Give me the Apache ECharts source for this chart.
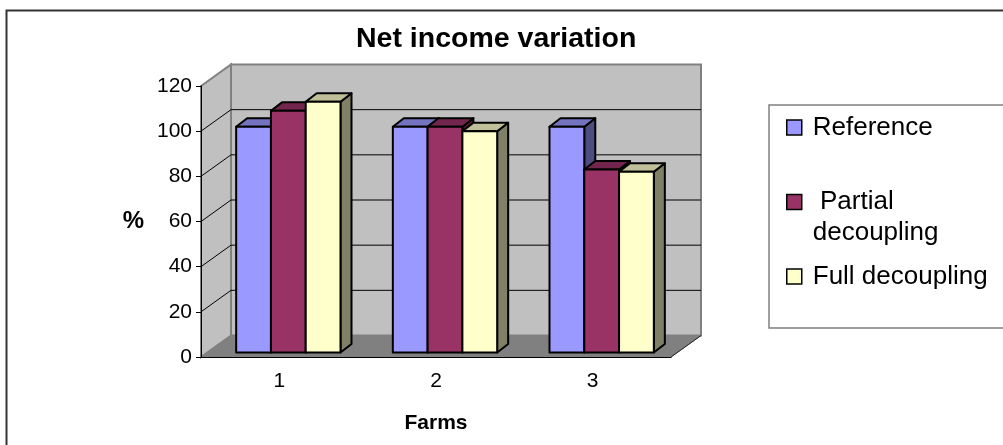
<!DOCTYPE html>
<html>
<head>
<meta charset="utf-8">
<script src="https://cdn.jsdelivr.net/npm/echarts@6/dist/echarts.min.js"></script>
<style>
  html, body { margin: 0; padding: 0; background: #fff; }
  #chart { width: 1003px; height: 445px; }
</style>
</head>
<body>
<div id="chart"></div>
<script>
// data
const categories = ['1', '2', '3'];
const seriesNames = ['Reference', 'Partial decoupling', 'Full decoupling'];
const referenceValues = [100, 100, 100];
const partialValues = [107, 100, 81];
const fullValues = [111, 98, 80];
const yTicks = [0, 20, 40, 60, 80, 100, 120];

// 3d look
const WALL_DX = 30, WALL_DY = -21.5;   // depth of the walls
const BAR_DX = 11, BAR_DY = -8.5;      // depth of one bar
const SHIFT_X = 9, SHIFT_Y = -4.5;     // bars sit a bit inside the floor
const BAR_RATIO = 0.222;
const FONT = 'Liberation Sans, Arial, sans-serif';

const barColors = [
  { front: '#9999FF', top: '#7373bf', side: '#4d4d80' },
  { front: '#993366', top: '#73264d', side: '#4d1a33' },
  { front: '#FFFFCC', top: '#bfbf99', side: '#808066' }
];

function toData(values) {
  return values.map(function (v, i) { return [i, v]; });
}

function barRenderer(index) {
  const c = barColors[index];
  return function (params, api) {
    const cat = api.value(0);
    const val = api.value(1);
    const band = api.size([1, 0])[0];
    const w = band * BAR_RATIO;
    const topPt = api.coord([cat, val]);
    const basePt = api.coord([cat, 0]);
    const x0 = topPt[0] - 1.5 * w + index * w + SHIFT_X;
    const x1 = x0 + w;
    const yT = topPt[1] + SHIFT_Y;
    const yB = basePt[1] + SHIFT_Y;
    const line = { stroke: '#000', lineWidth: 2, lineJoin: 'round' };
    return {
      type: 'group',
      children: [
        {
          type: 'polygon',
          shape: { points: [[x1, yT], [x1 + BAR_DX, yT + BAR_DY], [x1 + BAR_DX, yB + BAR_DY], [x1, yB]] },
          style: Object.assign({ fill: c.side }, line)
        },
        {
          type: 'polygon',
          shape: { points: [[x0, yT], [x0 + BAR_DX, yT + BAR_DY], [x1 + BAR_DX, yT + BAR_DY], [x1, yT]] },
          style: Object.assign({ fill: c.top }, line)
        },
        {
          type: 'rect',
          shape: { x: x0, y: yT, width: w, height: yB - yT },
          style: Object.assign({ fill: c.front }, line)
        }
      ]
    };
  };
}

// walls, floor and gridlines behind the bars
function frameRenderer(params, api) {
  const cs = params.coordSys;
  const xl = cs.x, xr = cs.x + cs.width;
  const yt = cs.y, yb = cs.y + cs.height;
  const children = [
    {
      type: 'polygon',
      shape: { points: [[xl, yt], [xl + WALL_DX, yt + WALL_DY], [xl + WALL_DX, yb + WALL_DY], [xl, yb]] },
      style: { fill: '#c0c0c0', stroke: '#808080', lineWidth: 2 }
    },
    {
      type: 'rect',
      shape: { x: xl + WALL_DX, y: yt + WALL_DY, width: cs.width, height: cs.height },
      style: { fill: '#c0c0c0', stroke: '#808080', lineWidth: 2 }
    },
    {
      type: 'polygon',
      shape: { points: [[xl, yb], [xl + WALL_DX, yb + WALL_DY], [xr + WALL_DX, yb + WALL_DY], [xr, yb]] },
      style: { fill: '#808080', stroke: '#808080', lineWidth: 1 }
    },
    {
      type: 'line',
      shape: { x1: xr, y1: yb, x2: xr + WALL_DX, y2: yb + WALL_DY },
      style: { stroke: '#222', lineWidth: 1 }
    }
  ];
  yTicks.forEach(function (t) {
    if (t === yTicks[0] || t === yTicks[yTicks.length - 1]) return;
    const y = api.coord([0, t])[1];
    children.push({
      type: 'line',
      shape: { x1: xl, y1: y, x2: xl + WALL_DX, y2: y + WALL_DY },
      style: { stroke: '#000', lineWidth: 1 }
    });
    children.push({
      type: 'line',
      shape: { x1: xl + WALL_DX, y1: y + WALL_DY, x2: xr + WALL_DX, y2: y + WALL_DY },
      style: { stroke: '#000', lineWidth: 1 }
    });
  });
  return { type: 'group', children: children };
}

const chart = echarts.init(document.getElementById('chart'));

const option = {
  backgroundColor: '#fff',
  animation: false,
  title: {
    text: 'Net income variation',
    left: 356,
    top: 25,
    padding: 0,
    textStyle: { fontFamily: FONT, fontSize: 28.5, fontWeight: 'bold', color: '#000' }
  },
  graphic: [
    {
      type: 'rect',
      z: -10,
      shape: { x: 6.5, y: 10.5, width: 1010, height: 460 },
      style: { fill: 'none', stroke: '#333', lineWidth: 2 }
    }
  ],
  legend: {
    orient: 'vertical',
    left: 769,
    top: 105,
    padding: [7, 40, 36, 17],
    itemGap: 12.5,
    itemWidth: 15,
    itemHeight: 15,
    borderColor: '#808080',
    borderWidth: 1.5,
    icon: 'rect',
    itemStyle: { borderColor: '#000', borderWidth: 1.5 },
    data: seriesNames,
    // the empty first line keeps " Partial" level with its square
    formatter: function (name) {
      return name === 'Partial decoupling' ? '\n Partial\ndecoupling' : name;
    },
    textStyle: { fontFamily: FONT, fontSize: 26, lineHeight: 31, color: '#000', padding: [0, 0, 0, 6] }
  },
  grid: {
    left: 201,
    right: 332,
    top: 86,
    bottom: 88
  },
  xAxis: {
    type: 'category',
    data: categories,
    name: 'Farms',
    nameLocation: 'middle',
    nameGap: 56,
    nameTextStyle: { fontFamily: FONT, fontSize: 21, fontWeight: 'bold', color: '#000' },
    axisLine: { lineStyle: { color: '#000', width: 1 } },
    axisTick: { length: 5, lineStyle: { color: '#000' } },
    axisLabel: { fontFamily: FONT, fontSize: 21, color: '#000', margin: 14 },
    splitLine: { show: false }
  },
  yAxis: {
    type: 'value',
    min: yTicks[0],
    max: yTicks[yTicks.length - 1],
    interval: yTicks[1] - yTicks[0],
    name: '%',
    nameLocation: 'middle',
    nameRotate: 0,
    nameGap: 57,
    nameTextStyle: { fontFamily: FONT, fontSize: 24, fontWeight: 'bold', color: '#000' },
    axisLine: { show: true, lineStyle: { color: '#000', width: 1 } },
    axisTick: { show: true, length: 5, lineStyle: { color: '#000' } },
    axisLabel: { fontFamily: FONT, fontSize: 21, color: '#000', margin: 9 },
    splitLine: { show: false }
  },
  series: [
    {
      name: 'frame',
      type: 'custom',
      z: -1,
      silent: true,
      renderItem: frameRenderer,
      data: [[0, 0]]
    },
    {
      name: seriesNames[0],
      type: 'custom',
      itemStyle: { color: barColors[0].front },
      renderItem: barRenderer(0),
      encode: { x: 0, y: 1 },
      data: toData(referenceValues)
    },
    {
      name: seriesNames[1],
      type: 'custom',
      itemStyle: { color: barColors[1].front },
      renderItem: barRenderer(1),
      encode: { x: 0, y: 1 },
      data: toData(partialValues)
    },
    {
      name: seriesNames[2],
      type: 'custom',
      itemStyle: { color: barColors[2].front },
      renderItem: barRenderer(2),
      encode: { x: 0, y: 1 },
      data: toData(fullValues)
    }
  ]
};

chart.setOption(option);
</script>
</body>
</html>
